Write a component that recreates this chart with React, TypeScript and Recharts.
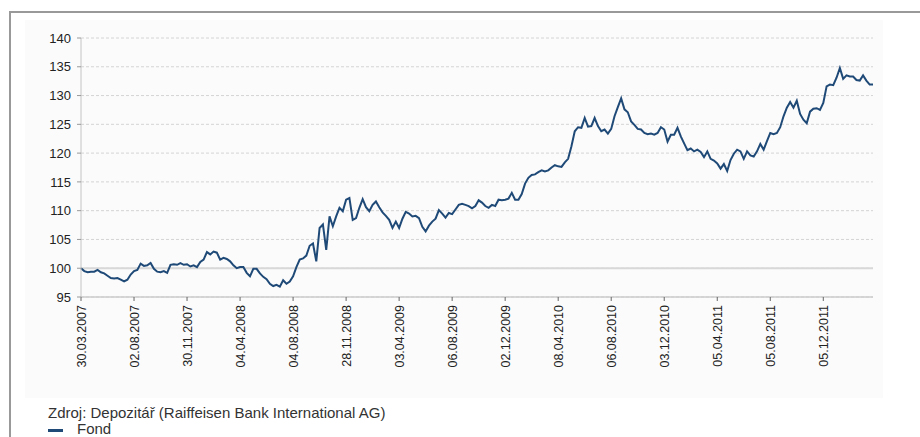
import { LineChart, Line, XAxis, YAxis, CartesianGrid, ReferenceLine } from "recharts";

// tick dates, one every 16 points of the series
const tickLabels = [
  "30.03.2007", "02.08.2007", "30.11.2007", "04.04.2008", "04.08.2008",
  "28.11.2008", "03.04.2009", "06.08.2009", "02.12.2009", "08.04.2010",
  "06.08.2010", "03.12.2010", "05.04.2011", "05.08.2011", "05.12.2011",
];
const tickStep = 16;

const yTicks = [95, 100, 105, 110, 115, 120, 125, 130, 135, 140];

// fund value
const fund = [
  100.0, 99.5, 99.3, 99.4, 99.4, 99.7, 99.3, 99.1, 98.7, 98.3,
  98.2, 98.3, 98.0, 97.7, 98.0, 98.9, 99.5, 99.7, 100.8, 100.4,
  100.5, 100.9, 99.9, 99.4, 99.3, 99.5, 99.2, 100.6, 100.7, 100.6,
  100.9, 100.6, 100.7, 100.3, 100.5, 100.2, 101.1, 101.5, 102.8, 102.4,
  102.9, 102.7, 101.5, 101.8, 101.6, 101.2, 100.5, 100.0, 100.2, 100.2,
  99.2, 98.6, 99.9, 99.9, 99.1, 98.5, 98.1, 97.3, 96.9, 97.1,
  96.8, 97.9, 97.3, 97.7, 98.6, 100.2, 101.5, 101.7, 102.2, 103.9,
  104.3, 101.2, 107.0, 107.6, 103.2, 109.0, 107.3, 109.0, 110.5, 109.9,
  111.9, 112.2, 108.4, 108.7, 110.5, 112.0, 110.6, 109.9, 111.0, 111.6,
  110.6, 109.7, 109.1, 108.4, 107.0, 108.1, 107.0, 108.6, 109.8, 109.5,
  109.0, 109.1, 108.7, 107.2, 106.4, 107.4, 108.1, 108.6, 110.1, 109.5,
  108.8, 109.6, 109.4, 110.2, 111.0, 111.2, 111.0, 110.8, 110.4, 110.8,
  111.8, 111.4, 110.8, 110.5, 111.0, 110.8, 111.9, 111.8, 111.9, 112.1,
  113.1, 111.9, 111.9, 112.9, 114.7, 115.7, 116.2, 116.3, 116.7, 117.0,
  116.8, 117.0, 117.5, 117.9, 117.7, 117.6, 118.4, 119.0, 121.2, 123.8,
  124.5, 124.4, 126.1, 124.6, 124.7, 126.1, 124.7, 123.8, 124.1, 123.4,
  124.2, 126.4, 128.0, 129.5, 127.6, 127.1, 125.5, 124.9, 124.2, 124.1,
  123.5, 123.3, 123.4, 123.2, 123.5, 124.5, 124.1, 122.0, 123.2, 123.2,
  124.4, 122.9, 121.7, 120.5, 120.8, 120.3, 120.6, 120.2, 119.3, 120.3,
  119.0, 118.7, 118.2, 117.3, 118.1, 116.9, 118.8, 119.9, 120.6, 120.3,
  119.0, 120.3, 119.6, 119.4, 120.3, 121.6, 120.6, 122.1, 123.5, 123.3,
  123.5, 124.5, 126.4, 127.9, 128.9, 127.9, 129.1, 126.8, 125.8, 125.2,
  127.2, 127.7, 127.8, 127.5, 128.7, 131.6, 131.9, 131.8, 133.1, 134.8,
  132.9, 133.5, 133.3, 133.3, 132.7, 132.6, 133.5, 132.6, 131.9, 131.9,
];

const data = fund.map((v, i) => ({ i, v }));
const xTicks = tickLabels.map((_, k) => k * tickStep);

const FONT = '"Liberation Sans", Arial, Helvetica, sans-serif';

const XTick = (props: any) => {
  const { x, y, payload } = props;
  const label = tickLabels[Math.round(payload.value / tickStep)] ?? "";
  return (
    <g transform={`translate(${x},${y})`}>
      <text
        transform="rotate(-90)"
        x={-4}
        y={0}
        dy={4.5}
        textAnchor="end"
        fontSize={12.5}
        fontFamily={FONT}
        fill="#222"
      >
        {label}
      </text>
    </g>
  );
};

export default function App() {
  return (
    <div
      style={{
        position: "fixed",
        left: 0,
        top: 0,
        width: 920,
        height: 437,
        overflow: "hidden",
        background: "#fff",
        fontFamily: FONT,
      }}
    >
      {/* frame */}
      <div
        style={{
          position: "absolute",
          left: 9,
          top: 11,
          width: 940,
          height: 460,
          borderTop: "2px solid #999",
          borderLeft: "2px solid #999",
        }}
      />
      <div
        style={{
          position: "absolute",
          left: 25,
          top: 20,
          width: 858,
          height: 378,
          background: "#fbfbfb",
        }}
      />
      <div style={{ position: "absolute", left: 0, top: 0 }}>
        <LineChart
          width={920}
          height={400}
          data={data}
          margin={{ top: 38, right: 47, left: 0, bottom: 0 }}
        >
          <CartesianGrid vertical={false} stroke="#d4d4d4" strokeDasharray="3 2" />
          <XAxis
            dataKey="i"
            type="number"
            domain={[0, fund.length - 1]}
            ticks={xTicks}
            interval={0}
            height={103}
            tick={<XTick />}
            tickSize={4}
            tickMargin={0}
            tickLine={{ stroke: "#666" }}
            axisLine={{ stroke: "#ccc", strokeWidth: 1.5 }}
          />
          <YAxis
            domain={[95, 140]}
            ticks={yTicks}
            interval={0}
            width={81}
            tickSize={4}
            tickMargin={6}
            tick={{ fontSize: 13, fill: "#222", fontFamily: FONT }}
            tickLine={{ stroke: "#999" }}
            axisLine={{ stroke: "#c4c4c4" }}
          />
          <ReferenceLine y={100} stroke="#d8d8d8" strokeWidth={2} />
          <Line
            type="linear"
            dataKey="v"
            stroke="#1f4a78"
            strokeWidth={2}
            dot={false}
            isAnimationActive={false}
          />
        </LineChart>
      </div>
      <div
        style={{
          position: "absolute",
          left: 48,
          top: 404,
          fontSize: 15,
          lineHeight: "17px",
          color: "#333",
          whiteSpace: "nowrap",
        }}
      >
        Zdroj: Depozitář (Raiffeisen Bank International AG)
      </div>
      <div
        style={{
          position: "absolute",
          left: 48,
          top: 421,
          fontSize: 15,
          lineHeight: "15px",
          color: "#333",
          whiteSpace: "nowrap",
          display: "flex",
          alignItems: "center",
        }}
      >
        <span style={{ display: "inline-block", width: 15, height: 3, background: "#1f4a78", marginRight: 14, marginTop: 4 }} />
        Fond
      </div>
    </div>
  );
}
